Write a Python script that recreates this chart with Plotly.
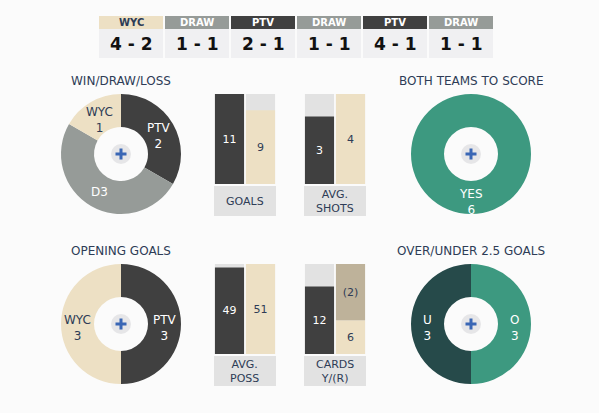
import math
import plotly.graph_objects as go

W, H = 599, 413
BG = "#fbfbfb"
NAVY = "#2e3c56"
DARK = "#404040"
BEIGE = "#ede0c4"
DRAWC = "#969b98"
LIGHT = "#e2e2e2"
SCOREBG = "#f0f0f2"
REDC = "#beb29a"
TEAL = "#3d9980"
DTEAL = "#264a4a"
BLUE = "#3a67b5"
FONT = "DejaVu Sans"

# ---------------- data ----------------
result_labels = ["WYC", "DRAW", "PTV", "DRAW", "PTV", "DRAW"]
result_scores = ["4 - 2", "1 - 1", "2 - 1", "1 - 1", "4 - 1", "1 - 1"]

wdl_labels = ["PTV", "D", "WYC"]
wdl_values = [2, 3, 1]

btts_labels = ["YES"]
btts_values = [6]

opening_labels = ["PTV", "WYC"]
opening_values = [3, 3]

ou_labels = ["O", "U"]
ou_values = [3, 3]

bar_teams = ["PTV", "WYC"]
goals = [11, 9]
shots = [3, 4]
poss = [49, 51]
yellow_cards = [12, 6]
red_cards = [0, 2]
RED_WEIGHT = 5  # a red card counts as 5 card points in the bar scale

# ---------------- helpers ----------------
def px(x):
    return x / W

def py(y):
    return 1 - y / H

fig = go.Figure()
shapes = []
annotations = []

team_fill = {"WYC": BEIGE, "DRAW": DRAWC, "PTV": DARK}
team_txt = {"WYC": NAVY, "DRAW": "white", "PTV": "white"}

# results strip
for i, (lab, sc) in enumerate(zip(result_labels, result_scores)):
    x0 = 99 + i * 66
    x1 = x0 + 64
    shapes.append(dict(type="rect", xref="paper", yref="paper", x0=px(x0), x1=px(x1),
                       y0=py(29), y1=py(16), fillcolor=team_fill[lab], line_width=0, layer="below"))
    shapes.append(dict(type="rect", xref="paper", yref="paper", x0=px(x0), x1=px(x1),
                       y0=py(58), y1=py(29), fillcolor=SCOREBG, line_width=0, layer="below"))
    annotations.append(dict(x=px((x0 + x1) / 2), y=py(22.5), xref="paper", yref="paper",
                            text=f"<b>{lab}</b>", showarrow=False, xanchor="center", yanchor="middle",
                            font=dict(family=FONT, size=10, color=team_txt[lab])))
    annotations.append(dict(x=px((x0 + x1) / 2), y=py(44), xref="paper", yref="paper",
                            text=f"<b>{sc}</b>", showarrow=False, xanchor="center", yanchor="middle",
                            font=dict(family=FONT, size=17, color="#111111")))

# pies
R = 60
RLAB = 43.5
def add_pie(cx, cy, labels, values, colors, tcolors, seps, title):
    fig.add_trace(go.Pie(
        labels=labels, values=values, hole=0.45, sort=False, direction="clockwise",
        rotation=0, marker=dict(colors=colors, line=dict(width=0)),
        textinfo="none", showlegend=False, hoverinfo="label+value",
        domain=dict(x=[px(cx - R), px(cx + R)], y=[py(cy + R), py(cy - R)])))
    total = sum(values)
    cum = 0
    for lab, v, tc, sep in zip(labels, values, tcolors, seps):
        ang = 2 * math.pi * (cum + v / 2) / total
        cum += v
        lx = cx + RLAB * math.sin(ang)
        ly = cy - RLAB * math.cos(ang) + (4 if sep == "<br>" else 0)
        annotations.append(dict(x=px(lx), y=py(ly), xref="paper", yref="paper",
                                text=f"{lab}{sep}{v}", showarrow=False, xanchor="center",
                                yanchor="middle", align="center",
                                font=dict(family=FONT, size=12, color=tc)))
    annotations.append(dict(x=px(cx), y=py(cy - 73), xref="paper", yref="paper", text=title,
                            showarrow=False, xanchor="center", yanchor="middle",
                            font=dict(family=FONT, size=12, color=NAVY)))
    shapes.append(dict(type="circle", xref="paper", yref="paper", x0=px(cx - 10), x1=px(cx + 10),
                       y0=py(cy + 10), y1=py(cy - 10), fillcolor="#e6e6e8", line_width=0))
    shapes.append(dict(type="rect", xref="paper", yref="paper", x0=px(cx - 5.5), x1=px(cx + 5.5),
                       y0=py(cy + 1.5), y1=py(cy - 1.5), fillcolor=BLUE, line_width=0))
    shapes.append(dict(type="rect", xref="paper", yref="paper", x0=px(cx - 1.5), x1=px(cx + 1.5),
                       y0=py(cy + 5.5), y1=py(cy - 5.5), fillcolor=BLUE, line_width=0))

add_pie(121, 154, wdl_labels, wdl_values, [DARK, DRAWC, BEIGE], ["white", "white", NAVY],
        ["<br>", "", "<br>"], "WIN/DRAW/LOSS")
add_pie(471, 154, btts_labels, btts_values, [TEAL], ["white"], ["<br>"], "BOTH TEAMS TO SCORE")
add_pie(121, 324, opening_labels, opening_values, [DARK, BEIGE], ["white", NAVY], ["<br>", "<br>"],
        "OPENING GOALS")
add_pie(471, 324, ou_labels, ou_values, [TEAL, DTEAL], ["white", "white"], ["<br>", "<br>"],
        "OVER/UNDER 2.5 GOALS")

# bars
BW = 0.94
def add_bars(n, x0, y0, values, ymax, label, extra=None):
    xa = "x" if n == 1 else f"x{n}"
    ya = "y" if n == 1 else f"y{n}"
    fig.add_trace(go.Bar(x=[0, 1], y=[ymax, ymax], width=BW, marker=dict(color=LIGHT, line_width=0),
                         xaxis=xa, yaxis=ya, showlegend=False, hoverinfo="skip"))
    fig.add_trace(go.Bar(x=[0, 1], y=values, width=BW, marker=dict(color=[DARK, BEIGE], line_width=0),
                         text=[str(v) for v in values], textposition="inside", insidetextanchor="middle",
                         textangle=0, textfont=dict(family=FONT, size=11, color=["white", NAVY]),
                         customdata=bar_teams, hovertemplate="%{customdata}: %{y}<extra></extra>",
                         xaxis=xa, yaxis=ya, showlegend=False))
    if extra is not None:
        base, ext_vals, ext_text = extra
        fig.add_trace(go.Bar(x=[0, 1], y=ext_vals, base=base, width=BW,
                             marker=dict(color=[REDC, REDC], line_width=0),
                             text=ext_text, textposition="inside", insidetextanchor="middle",
                             textangle=0, textfont=dict(family=FONT, size=11, color=NAVY),
                             xaxis=xa, yaxis=ya, showlegend=False, hoverinfo="skip"))
    key = "" if n == 1 else str(n)
    fig.layout["xaxis" + key] = dict(domain=[px(x0), px(x0 + 62)], range=[-0.5, 1.5], visible=False,
                                     fixedrange=True, anchor=ya)
    fig.layout["yaxis" + key] = dict(domain=[py(y0 + 90), py(y0)], range=[0, ymax], visible=False,
                                     fixedrange=True, anchor=xa)
    shapes.append(dict(type="rect", xref="paper", yref="paper", x0=px(x0), x1=px(x0 + 62),
                       y0=py(y0 + 122), y1=py(y0 + 92), fillcolor=LIGHT, line_width=0, layer="below"))
    annotations.append(dict(x=px(x0 + 31), y=py(y0 + 107), xref="paper", yref="paper", text=label,
                            showarrow=False, xanchor="center", yanchor="middle",
                            font=dict(family=FONT, size=11, color=NAVY)))

add_bars(1, 214, 94, goals, max(goals), "GOALS")
add_bars(2, 304, 94, shots, max(shots), "AVG.<br>SHOTS")
add_bars(3, 214, 264, poss, max(poss), "AVG.<br>POSS")
red_pts = [r * RED_WEIGHT for r in red_cards]
card_tot = [y + r for y, r in zip(yellow_cards, red_pts)]
add_bars(4, 304, 264, yellow_cards, max(card_tot), "CARDS<br>Y/(R)",
         extra=(yellow_cards, red_pts, [f"({r})" if r else "" for r in red_cards]))

fig.update_layout(
    width=W, height=H, autosize=False, margin=dict(l=0, r=0, t=0, b=0),
    paper_bgcolor=BG, plot_bgcolor=BG, barmode="overlay",
    shapes=shapes, annotations=annotations,
    uniformtext=dict(minsize=11, mode="show"),
    font=dict(family=FONT, color=NAVY),
)

fig.write_html("out.html")
